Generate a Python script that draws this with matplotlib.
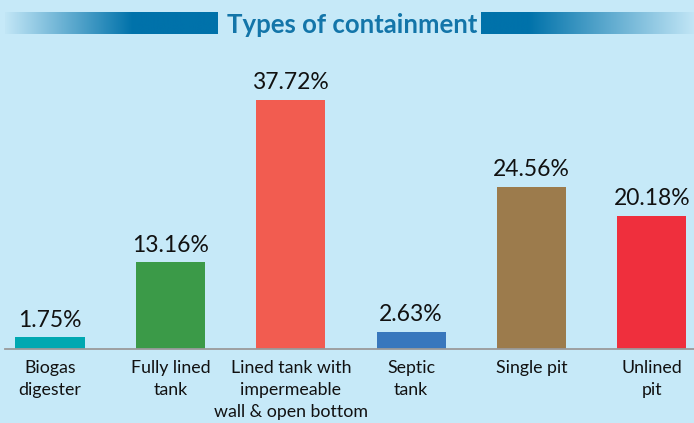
import numpy as np
import matplotlib
matplotlib.use("Agg")
import matplotlib.pyplot as plt
from matplotlib.colors import LinearSegmentedColormap

categories = ["Biogas\ndigester", "Fully lined\ntank",
              "Lined tank with\nimpermeable\nwall & open bottom",
              "Septic\ntank", "Single pit", "Unlined\npit"]
values = [1.75, 13.16, 37.72, 2.63, 24.56, 20.18]
bar_colors = ["#00A8B1", "#3B9A48", "#F25C50", "#3877BD", "#9C7B4C", "#EF2F3D"]
title = "Types of containment"

BG = "#C6E9F8"
FONT = "Lato"

W, H = 694, 423
fig = plt.figure(figsize=(W / 100, H / 100), dpi=100, facecolor=BG)

# main plotting area
left, right = 5 / W, 694 / W
bottom, top = (H - 349) / H, (H - 60) / H
ax = fig.add_axes([left, bottom, right - left, top - bottom])
ax.set_facecolor(BG)
x = np.arange(len(categories))
ax.bar(x, values, width=0.575, color=bar_colors, zorder=2)
ax.set_xlim(-0.374, 5.35)
ax.set_ylim(0, 289 / 6.6)
for xi, v in zip(x, values):
    ax.text(xi, v + 1.0, f"{v:.2f}%", ha="center", va="bottom",
            fontsize=16.5, family=FONT, color="#111111")
ax.set_xticks(x)
ax.set_xticklabels(categories, fontsize=12.8, family=FONT, color="#111111",
                   linespacing=1.45, va="top")
ax.tick_params(axis="x", length=0, pad=8)
ax.set_yticks([])
for s in ("left", "right", "top"):
    ax.spines[s].set_visible(False)
ax.spines["bottom"].set_color("#9A9A9A")
ax.spines["bottom"].set_linewidth(1.3)

# title with gradient rules on both sides
dark = "#0072AA"
light = "#C2E6F6"
cmap_l = LinearSegmentedColormap.from_list("rule_l", [(0, light), (0.6, dark), (1, dark)])
cmap_r = LinearSegmentedColormap.from_list("rule_r", [(0, dark), (0.22, dark), (1, light)])
grad = np.linspace(0, 1, 256).reshape(1, -1)
y0, y1 = (H - 34) / H, (H - 12) / H
axl = fig.add_axes([5 / W, y0, (218 - 5) / W, y1 - y0])
axl.imshow(grad, aspect="auto", cmap=cmap_l)
axl.axis("off")
axr = fig.add_axes([481 / W, y0, (694 - 481) / W, y1 - y0])
axr.imshow(grad, aspect="auto", cmap=cmap_r)
axr.axis("off")
fig.text(352 / W, (H - 25) / H, title, ha="center", va="center",
         fontsize=18.5, fontweight="bold", family=FONT, color="#1375A9")

fig.savefig("out.png", dpi=100, facecolor=BG)
